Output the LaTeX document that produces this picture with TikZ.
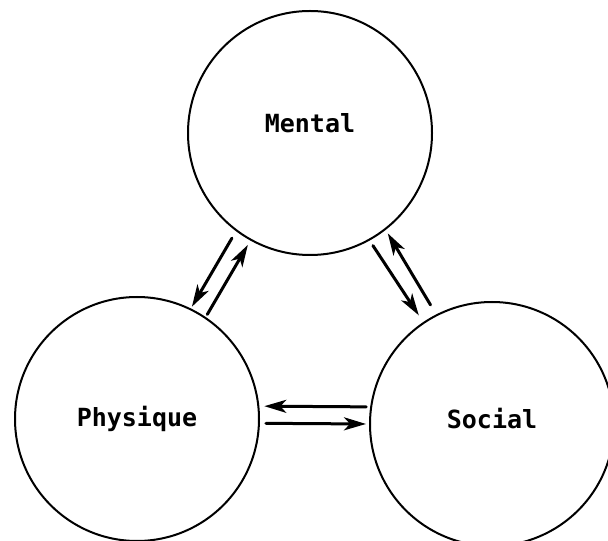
\documentclass[tikz,border=0pt]{standalone}
\usepackage{fontspec}
\setmonofont{DejaVu Sans Mono}
\usetikzlibrary{arrows.meta}
\begin{document}
\begin{tikzpicture}[line cap=round, line join=round, x=1pt, y=1pt,
    sphere/.style={draw, circle, line width=2pt, minimum size=244pt, inner sep=0pt,
        font=\ttfamily\bfseries\fontsize{25}{30}\selectfont},
    link/.style={line width=3pt, -{Stealth[length=22pt, width=13pt, inset=6pt]}}]

    \useasboundingbox (0,0) rectangle (608,541);

    \node[sphere, text depth=20pt] (mental) at (310,408) {Mental};
    \node[sphere] (physique) at (137,122) {Physique};
    \node[sphere, text depth=12pt] (social) at (492,117) {Social};

    % mental <-> physique
    \draw[link, shorten <=8pt, shorten >=2pt] (mental.233) -- (physique.64);
    \draw[link, shorten <=3pt, shorten >=5pt] (physique.56) -- (mental.241);

    % mental <-> social
    \draw[link, shorten <=6pt, shorten >=8pt] (mental.299) -- (social.124);
    \draw[link, shorten <=11pt, shorten >=4pt] (social.117) -- (mental.308);

    % physique <-> social
    \draw[link, shorten <=4pt, shorten >=5pt] (social.172) -- (physique.6);
    \draw[link, shorten <=6pt, shorten >=3pt] (physique.358) -- (social.180);

\end{tikzpicture}
\end{document}
